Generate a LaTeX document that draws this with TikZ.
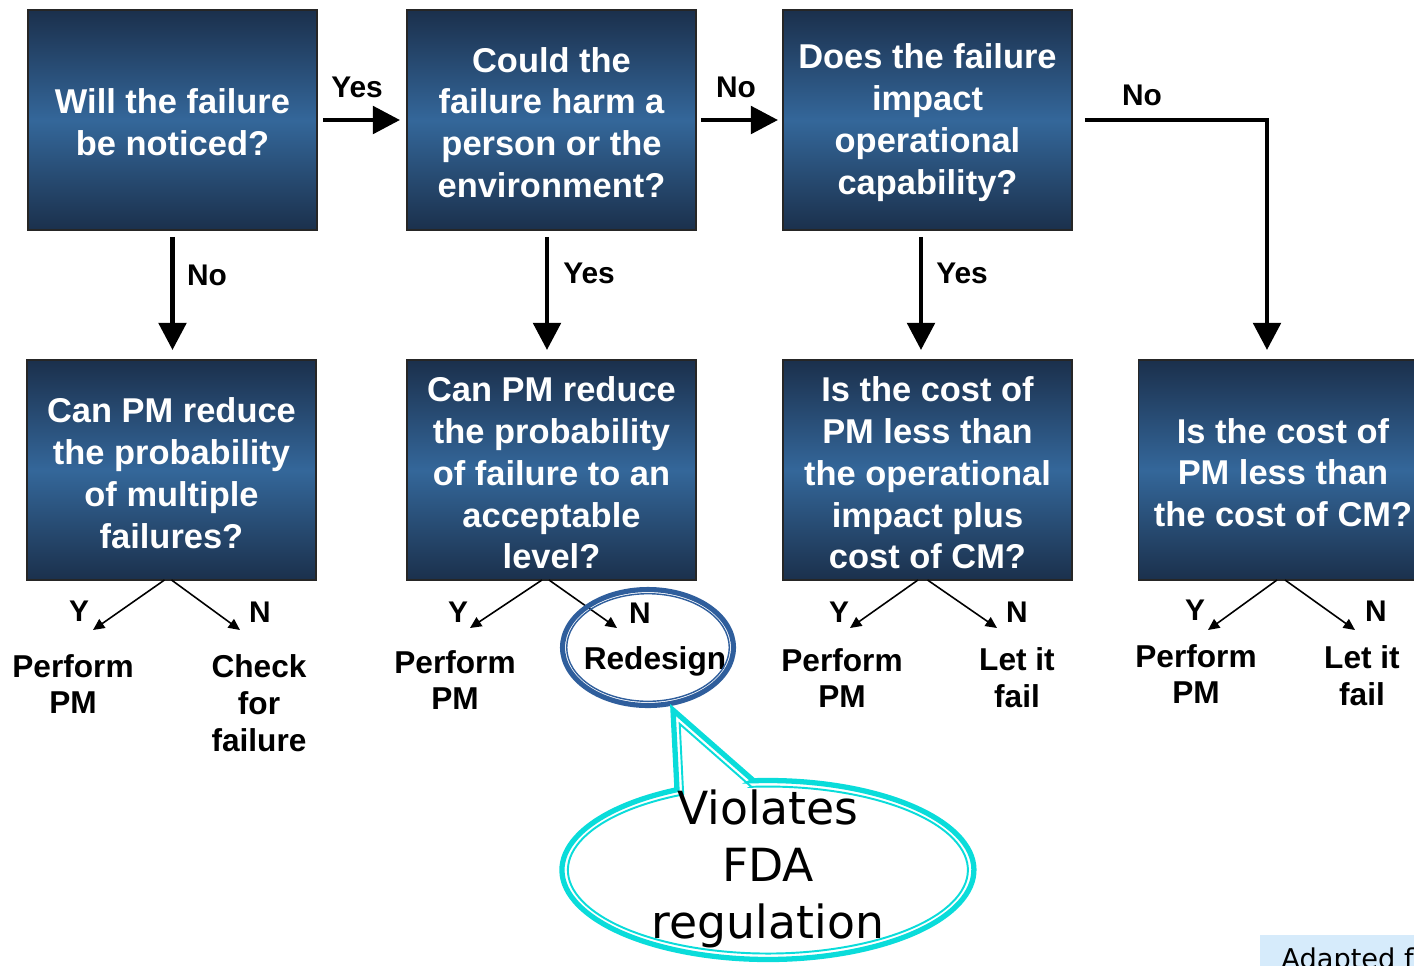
\documentclass[tikz,border=0pt]{standalone}
\usepackage{fontspec}
\setmainfont{Liberation Sans}
\newfontfamily\notefont{DejaVu Sans}
\usetikzlibrary{arrows.meta}
\definecolor{boxdark}{RGB}{27,48,76}
\definecolor{boxmid}{RGB}{52,103,154}
\definecolor{ringblue}{RGB}{47,94,156}
\definecolor{calloutcyan}{RGB}{10,220,218}
\definecolor{notefill}{RGB}{214,235,251}

\begin{document}
\begin{tikzpicture}[x=0.02cm,y=0.02cm,
  qbox/.style={draw=black!85, line width=1pt, top color=boxdark, bottom color=boxdark,
    middle color=boxmid, minimum width=5.78cm, minimum height=4.4cm, inner sep=0pt,
    outer sep=0pt},
  qtext/.style={text=white, align=center, inner sep=0pt,
    font=\fontsize{19.6pt}{23.8pt}\selectfont\bfseries},
  bigarrow/.style={line width=2.8pt, -{Triangle[length=15.5pt,width=15.5pt]}},
  smallarrow/.style={line width=0.9pt, -{Triangle[length=6.5pt,width=6pt]}},
  lbl/.style={font=\fontsize{17pt}{20pt}\selectfont\bfseries, inner sep=0pt},
  leaf/.style={align=center, font=\fontsize{18pt}{21pt}\selectfont\bfseries, inner sep=0pt},
]
\useasboundingbox (0,0) rectangle (1414,-965);
\clip (0,0) rectangle (1414,-965);

% question boxes
\node[qbox] (b1) at (172.5,-120) {};
\node[qbox] (b2) at (551.5,-120) {};
\node[qbox] (b3) at (927.5,-120) {};
\node[qbox] (b4) at (171.5,-470) {};
\node[qbox] (b5) at (551.5,-470) {};
\node[qbox] (b6) at (927.5,-470) {};
\node[qbox] (b7) at (1283,-470) {};

\node[qtext] (b1t) at ([yshift=-0.05cm]b1.center) {Will the failure\\be noticed?};
\node[qtext] (b2t) at ([yshift=-0.05cm]b2.center) {Could the\\failure harm a\\person or the\\environment?};
\node[qtext] (b3t) at ([yshift=-0.05cm]b3.center) {Does the failure\\impact\\operational\\capability?};
\node[qtext] (b4t) at ([yshift=-0.06cm]b4.center) {Can PM reduce\\the probability\\of multiple\\failures?};
\node[qtext] (b5t) at ([yshift=-0.06cm]b5.center) {Can PM reduce\\the probability\\of failure to an\\acceptable\\level?};
\node[qtext] (b6t) at ([yshift=-0.06cm]b6.center) {Is the cost of\\PM less than\\the operational\\impact plus\\cost of CM?};
\node[qtext] (b7t) at ([yshift=-0.05cm]b7.center) {Is the cost of\\PM less than\\the cost of CM?};

% main decision arrows
\draw[bigarrow, shorten <=0.12cm, shorten >=0.14cm] (b1.east) -- (b2.west);
\draw[bigarrow, shorten <=0.1cm, shorten >=0.1cm] (b2.east) -- (b3.west);
\draw[bigarrow, shorten <=0.14cm, shorten >=0.2cm] (b1.south) -- (b1.south |- b4.north);
\draw[bigarrow, shorten <=0.14cm, shorten >=0.2cm] ([xshift=-0.09cm]b2.south) -- ([xshift=-0.09cm]b5.north);
\draw[bigarrow, shorten <=0.14cm, shorten >=0.2cm] ([xshift=-0.13cm]b3.south) -- ([xshift=-0.13cm]b6.north);
\draw[bigarrow, shorten <=0.26cm, shorten >=0.2cm] (b3.east) -| ([xshift=-0.32cm]b7.north);

\node[lbl] (yes1) at (357,-87) {Yes};
\node[lbl] (no1) at (736,-87) {No};
\node[lbl] (no2) at (207,-275) {No};
\node[lbl] (yes2) at (589,-273) {Yes};
\node[lbl] (yes3) at (962,-273) {Yes};
\node[lbl] (no3) at (1142,-95) {No};

% outcome branches
\coordinate (t4y) at (93,-630);   \coordinate (t4n) at (240,-630);
\coordinate (t5y) at (470,-628);  \coordinate (t5n) at (617,-628);
\coordinate (t6y) at (850,-628);  \coordinate (t6n) at (997,-628);
\coordinate (t7y) at (1208,-630); \coordinate (t7n) at (1355,-630);

\draw[smallarrow] ([xshift=-0.14cm]b4.south) -- (t4y);
\draw[smallarrow] (b4.south) -- (t4n);
\draw[smallarrow] ([xshift=-0.19cm]b5.south) -- (t5y);
\draw[smallarrow] ([xshift=-0.05cm]b5.south) -- (t5n);
\draw[smallarrow] ([xshift=-0.19cm]b6.south) -- (t6y);
\draw[smallarrow] (b6.south) -- (t6n);
\draw[smallarrow] ([xshift=-0.12cm]b7.south) -- (t7y);
\draw[smallarrow] ([xshift=0.04cm]b7.south) -- (t7n);

\node[lbl] (y4) at (79,-611) {Y};    \node[lbl] (n4) at (260,-612) {N};
\node[lbl] (y5) at (458,-612) {Y};   \node[lbl] (n5) at (640,-613) {N};
\node[lbl] (y6) at (839,-612) {Y};   \node[lbl] (n6) at (1017,-612) {N};
\node[lbl] (y7) at (1195,-610) {Y};  \node[lbl] (n7) at (1376,-611) {N};

\node[leaf] (l4y) at (73,-684) {Perform\\PM};
\node[leaf] (l4n) at (259,-703) {Check\\for\\failure};
\node[leaf] (l5y) at (455,-680) {Perform\\PM};
\node[leaf] (l5n) at (655,-661) {Redesign};
\node[leaf] (l6y) at (842,-678) {Perform\\PM};
\node[leaf] (l6n) at (1017,-678) {Let it\\fail};
\node[leaf] (l7y) at (1196,-674) {Perform\\PM};
\node[leaf] (l7n) at (1362,-676) {Let it\\fail};

% ring around the redesign outcome
\draw[ringblue, line width=2.9pt] (648,-647.5) ellipse [x radius=1.71cm, y radius=1.16cm];
\draw[ringblue, line width=0.8pt] (648,-647.5) ellipse [x radius=1.626cm, y radius=1.076cm];

% speech bubble
\filldraw[calloutcyan, fill=white, line width=3pt]
  (753.6,-780.7) -- (673,-710) -- (677,-789.7)
  arc[start angle=116.2, end angle=454, x radius=4.12cm, y radius=1.79cm] -- cycle;
\draw[calloutcyan, line width=1.1pt]
  (751.4,-786.8) -- (679.7,-723.9) -- (683.2,-794.4)
  arc[start angle=115.06, end angle=454.75, x radius=4cm, y radius=1.67cm] -- cycle;
\node[font=\notefont\fontsize{26pt}{32.3pt}\selectfont, align=center, inner sep=0pt]
  (fda) at (768,-869) {Violates\\FDA\\regulation};

% source note
\fill[notefill] (1260,-935) rectangle (1420,-970);
\node[font=\notefont\fontsize{15.5pt}{18pt}\selectfont, anchor=base west, inner sep=0pt]
  (src) at (1281,-968) {Adapted f};
\end{tikzpicture}
\end{document}
